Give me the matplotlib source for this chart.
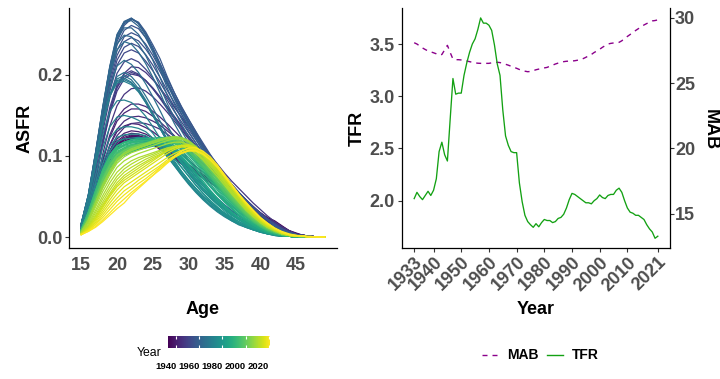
import matplotlib
matplotlib.use("Agg")
import matplotlib.pyplot as plt
import numpy as np
from matplotlib.lines import Line2D
from matplotlib.colors import Normalize
from matplotlib.cm import ScalarMappable

plt.rcParams['font.family'] = ['Liberation Sans', 'DejaVu Sans']

ages = list(range(15, 50))
years = list(range(1933, 2022))

# Age-specific fertility rates (births per 1000 women), ages 15..49, one row per year
asfr_1930s = [
    [6, 20, 44, 72, 95, 110, 118, 122, 122, 119, 115, 110, 104, 98, 93, 88, 82, 76, 70, 64, 58, 52, 46, 40, 35, 30, 24, 20, 14, 8, 5, 2, 1, 0, 0],
    [6, 21, 45, 74, 98, 113, 121, 125, 125, 122, 118, 112, 106, 100, 94, 89, 83, 77, 71, 64, 58, 52, 46, 40, 34, 29, 23, 19, 13, 8, 4, 2, 1, 0, 0],
    [6, 21, 45, 74, 97, 112, 120, 123, 123, 120, 116, 110, 104, 98, 92, 87, 81, 75, 69, 63, 57, 51, 45, 39, 33, 28, 22, 18, 12, 7, 4, 2, 1, 0, 0],
    [6, 21, 45, 74, 97, 111, 118, 121, 121, 118, 114, 108, 102, 96, 90, 85, 79, 73, 67, 61, 55, 49, 43, 37, 31, 26, 21, 17, 11, 6, 3, 2, 1, 0, 0],
    [6, 22, 47, 76, 100, 114, 121, 124, 124, 121, 117, 111, 105, 98, 92, 86, 80, 74, 68, 61, 55, 49, 43, 37, 31, 26, 20, 16, 11, 6, 3, 2, 1, 0, 0],
    [7, 23, 49, 79, 103, 118, 125, 128, 127, 124, 119, 113, 107, 100, 94, 88, 82, 75, 69, 62, 56, 50, 43, 37, 31, 25, 20, 16, 10, 6, 3, 2, 1, 0, 0],
    [7, 23, 48, 78, 102, 116, 123, 126, 125, 122, 117, 111, 105, 98, 92, 86, 80, 73, 67, 61, 54, 48, 42, 36, 30, 25, 19, 15, 10, 6, 3, 2, 1, 0, 0],
]
asfr_1940s = [
    [7, 24, 50, 81, 106, 121, 128, 131, 130, 127, 122, 116, 109, 102, 96, 89, 82, 75, 69, 62, 55, 49, 42, 36, 30, 24, 19, 15, 10, 6, 3, 2, 1, 0, 0],
    [7, 25, 53, 86, 113, 130, 137, 140, 139, 135, 130, 123, 116, 109, 102, 95, 87, 80, 73, 66, 58, 51, 44, 37, 31, 25, 19, 15, 10, 6, 3, 2, 1, 0, 0],
    [8, 27, 57, 93, 123, 143, 153, 158, 158, 155, 149, 142, 134, 125, 116, 107, 98, 89, 80, 72, 64, 56, 48, 41, 34, 27, 21, 16, 11, 6, 3, 2, 1, 0, 0],
    [8, 27, 58, 95, 126, 147, 158, 164, 164, 161, 155, 148, 140, 131, 122, 113, 103, 94, 85, 76, 67, 59, 51, 43, 36, 29, 22, 16, 11, 6, 3, 2, 1, 0, 0],
    [7, 24, 52, 86, 114, 133, 143, 148, 149, 147, 143, 138, 131, 124, 116, 108, 99, 91, 82, 74, 66, 58, 50, 43, 36, 29, 22, 17, 11, 6, 3, 2, 1, 0, 0],
    [6, 22, 48, 80, 107, 125, 135, 140, 141, 140, 137, 133, 127, 120, 112, 105, 97, 89, 81, 73, 65, 57, 50, 43, 36, 29, 22, 17, 11, 6, 3, 2, 1, 0, 0],
    [8, 29, 62, 102, 137, 162, 176, 183, 184, 180, 173, 164, 154, 143, 132, 121, 110, 100, 90, 80, 71, 62, 54, 46, 38, 30, 23, 17, 11, 6, 3, 2, 1, 0, 0],
    [10, 33, 70, 115, 155, 185, 202, 210, 209, 203, 194, 184, 172, 160, 148, 136, 124, 112, 101, 90, 79, 69, 60, 51, 42, 34, 26, 19, 13, 8, 4, 2, 1, 0, 0],
    [10, 33, 70, 114, 152, 180, 195, 201, 199, 193, 184, 173, 161, 149, 137, 125, 113, 102, 91, 81, 71, 62, 53, 45, 37, 30, 23, 17, 11, 6, 3, 2, 1, 0, 0],
    [10, 34, 72, 117, 156, 184, 198, 203, 200, 193, 183, 172, 160, 148, 136, 124, 112, 101, 90, 80, 70, 61, 52, 44, 36, 29, 22, 16, 11, 6, 3, 2, 1, 0, 0],
]
asfr_1950s = [
    [11, 35, 74, 120, 160, 188, 201, 205, 201, 193, 183, 171, 158, 146, 134, 122, 110, 99, 88, 78, 68, 59, 51, 43, 35, 28, 21, 16, 10, 6, 3, 2, 1, 0, 0],
    [12, 38, 80, 129, 172, 202, 216, 220, 216, 207, 196, 183, 169, 155, 142, 129, 116, 104, 92, 81, 71, 61, 52, 44, 36, 28, 21, 16, 10, 6, 3, 2, 1, 0, 0],
    [12, 40, 84, 135, 180, 212, 227, 231, 227, 217, 205, 191, 176, 161, 147, 133, 120, 107, 95, 84, 73, 63, 54, 45, 37, 29, 22, 16, 10, 6, 3, 2, 1, 0, 0],
    [13, 41, 86, 139, 185, 218, 234, 239, 235, 225, 212, 197, 181, 166, 151, 137, 123, 110, 98, 86, 75, 64, 55, 46, 37, 29, 22, 16, 10, 6, 3, 2, 1, 0, 0],
    [13, 42, 88, 142, 190, 224, 241, 246, 242, 232, 219, 204, 188, 172, 156, 141, 127, 113, 100, 88, 76, 65, 55, 46, 37, 29, 22, 16, 10, 6, 3, 1, 1, 0, 0],
    [14, 44, 91, 146, 195, 230, 247, 252, 248, 238, 224, 208, 191, 174, 158, 142, 128, 114, 101, 88, 76, 65, 55, 45, 36, 28, 21, 15, 10, 6, 3, 1, 1, 0, 0],
    [14, 46, 94, 150, 200, 237, 255, 261, 257, 246, 231, 214, 196, 178, 161, 145, 130, 116, 102, 89, 77, 65, 55, 45, 36, 28, 21, 15, 10, 6, 3, 1, 1, 0, 0],
    [14, 47, 96, 149, 200, 241, 261, 269, 265, 253, 237, 220, 198, 178, 160, 145, 130, 114, 98, 85, 72, 60, 51, 43, 32, 25, 18, 14, 8, 5, 3, 1, 1, 0, 0],
    [15, 48, 98, 152, 204, 244, 263, 269, 264, 251, 234, 214, 193, 174, 157, 141, 126, 111, 97, 84, 71, 60, 50, 41, 32, 25, 18, 13, 8, 5, 3, 1, 1, 0, 0],
    [15, 50, 101, 156, 208, 247, 265, 270, 264, 250, 232, 212, 191, 172, 155, 139, 124, 109, 95, 82, 70, 58, 48, 39, 31, 24, 17, 12, 8, 5, 3, 1, 0, 0, 0],
]
asfr_1960s = [
    [16, 51, 103, 158, 210, 249, 266, 270, 263, 249, 231, 210, 189, 170, 152, 136, 121, 106, 92, 79, 67, 56, 46, 37, 29, 22, 16, 12, 7, 4, 2, 1, 0, 0, 0],
    [16, 52, 104, 160, 211, 250, 265, 267, 260, 246, 228, 207, 184, 164, 146, 130, 116, 102, 88, 76, 64, 53, 44, 36, 27, 20, 15, 11, 7, 4, 2, 1, 0, 0, 0],
    [16, 52, 104, 160, 209, 245, 258, 258, 250, 236, 218, 197, 175, 156, 139, 124, 110, 97, 84, 72, 61, 51, 42, 34, 26, 19, 14, 10, 6, 4, 2, 1, 0, 0, 0],
    [16, 52, 103, 158, 205, 238, 249, 247, 238, 224, 206, 186, 165, 147, 131, 116, 103, 90, 78, 67, 57, 47, 39, 31, 24, 18, 13, 9, 6, 3, 2, 1, 0, 0, 0],
    [16, 52, 102, 155, 200, 231, 241, 238, 228, 214, 197, 178, 158, 140, 124, 110, 97, 85, 74, 64, 54, 45, 37, 30, 23, 17, 12, 9, 6, 3, 2, 1, 0, 0, 0],
    [15, 49, 96, 145, 185, 211, 218, 213, 203, 189, 173, 156, 138, 122, 108, 95, 84, 73, 63, 54, 46, 38, 31, 25, 19, 14, 10, 7, 4, 2, 1, 1, 0, 0, 0],
    [15, 48, 93, 139, 176, 198, 203, 198, 188, 174, 159, 143, 126, 111, 98, 86, 75, 65, 56, 48, 40, 33, 27, 21, 16, 12, 8, 6, 3, 2, 1, 0, 0, 0, 0],
    [15, 48, 93, 138, 174, 195, 199, 194, 183, 169, 153, 137, 121, 107, 94, 83, 72, 63, 54, 46, 39, 32, 26, 20, 15, 11, 8, 5, 3, 2, 1, 0, 0, 0, 0],
    [15, 49, 94, 139, 174, 193, 196, 191, 181, 167, 151, 135, 119, 105, 92, 80, 70, 60, 52, 44, 37, 30, 24, 19, 14, 10, 7, 5, 3, 2, 1, 0, 0, 0, 0],
    [16, 50, 96, 140, 175, 192, 194, 190, 180, 166, 150, 134, 118, 104, 91, 79, 68, 58, 50, 42, 35, 28, 23, 18, 13, 9, 6, 4, 2, 1, 1, 0, 0, 0, 0],
]
asfr_1970s = [
    [16, 50, 96, 140, 174, 190, 192, 188, 179, 166, 150, 134, 118, 103, 90, 78, 67, 57, 49, 41, 34, 27, 22, 17, 13, 9, 6, 4, 2, 1, 1, 0, 0, 0, 0],
    [15, 46, 87, 126, 155, 168, 169, 166, 159, 149, 136, 122, 107, 94, 81, 70, 60, 51, 43, 36, 30, 24, 19, 15, 11, 8, 5, 3, 2, 1, 0, 0, 0, 0, 0],
    [13, 40, 76, 110, 136, 148, 150, 148, 144, 138, 128, 116, 103, 90, 78, 67, 57, 48, 40, 33, 27, 22, 17, 13, 10, 7, 5, 3, 2, 1, 0, 0, 0, 0, 0],
    [12, 36, 68, 99, 122, 133, 136, 136, 134, 130, 122, 112, 100, 88, 76, 65, 55, 46, 38, 31, 25, 20, 15, 12, 9, 6, 4, 2, 1, 1, 0, 0, 0, 0, 0],
    [11, 33, 62, 91, 112, 123, 126, 127, 127, 125, 119, 110, 99, 88, 77, 66, 56, 47, 39, 32, 26, 20, 16, 12, 9, 6, 4, 2, 1, 1, 0, 0, 0, 0, 0],
    [10, 31, 58, 85, 106, 118, 121, 122, 123, 122, 118, 111, 102, 91, 80, 69, 59, 50, 42, 35, 28, 22, 17, 13, 10, 7, 5, 3, 1, 1, 0, 0, 0, 0, 0],
    [10, 30, 56, 82, 102, 113, 117, 119, 121, 121, 118, 112, 103, 92, 81, 70, 60, 50, 42, 34, 27, 21, 16, 12, 9, 7, 4, 3, 1, 1, 0, 0, 0, 0, 0],
    [10, 30, 56, 82, 101, 112, 117, 120, 122, 123, 121, 116, 108, 97, 86, 75, 64, 54, 45, 37, 29, 23, 17, 13, 9, 7, 4, 3, 1, 1, 0, 0, 0, 0, 0],
    [9, 28, 53, 78, 97, 108, 113, 116, 118, 119, 118, 114, 107, 97, 86, 75, 64, 54, 45, 37, 29, 23, 17, 13, 9, 6, 4, 2, 1, 1, 0, 0, 0, 0, 0],
    [9, 28, 53, 78, 97, 108, 114, 117, 120, 121, 121, 118, 111, 102, 91, 80, 69, 58, 48, 40, 32, 25, 19, 14, 10, 7, 4, 3, 1, 1, 0, 0, 0, 0, 0],
]
asfr_1980s = [
    [9, 27, 51, 75, 93, 104, 110, 114, 116, 118, 118, 116, 111, 103, 93, 82, 71, 60, 51, 42, 34, 27, 21, 16, 11, 8, 5, 3, 2, 1, 0, 0, 0, 0, 0],
    [9, 26, 50, 73, 91, 102, 108, 112, 115, 117, 117, 116, 112, 105, 96, 85, 74, 63, 53, 44, 35, 28, 22, 16, 11, 8, 5, 3, 2, 1, 0, 0, 0, 0, 0],
    [9, 26, 49, 72, 89, 100, 106, 110, 113, 115, 116, 116, 113, 107, 98, 88, 77, 66, 55, 46, 37, 29, 22, 16, 11, 8, 5, 3, 2, 1, 0, 0, 0, 0, 0],
    [8, 25, 47, 70, 87, 97, 103, 107, 110, 112, 114, 114, 112, 106, 98, 88, 78, 67, 56, 47, 38, 30, 23, 17, 12, 8, 5, 3, 2, 1, 0, 0, 0, 0, 0],
    [8, 24, 46, 69, 86, 96, 102, 106, 109, 111, 113, 114, 113, 108, 100, 90, 80, 69, 58, 48, 39, 31, 24, 18, 12, 9, 5, 3, 2, 1, 0, 0, 0, 0, 0],
    [8, 24, 46, 69, 85, 96, 102, 106, 109, 111, 113, 114, 113, 109, 102, 93, 83, 72, 62, 52, 43, 35, 27, 20, 14, 10, 6, 4, 2, 1, 0, 0, 0, 0, 0],
    [8, 24, 47, 70, 86, 96, 101, 105, 108, 110, 112, 114, 114, 111, 104, 95, 85, 74, 63, 53, 44, 35, 27, 20, 14, 10, 6, 4, 2, 1, 0, 0, 0, 0, 0],
    [8, 25, 48, 72, 89, 99, 104, 107, 109, 111, 113, 115, 115, 113, 107, 98, 88, 77, 66, 55, 45, 36, 28, 21, 15, 10, 6, 4, 2, 1, 0, 0, 0, 0, 0],
    [9, 27, 51, 76, 93, 104, 109, 112, 114, 115, 117, 118, 118, 116, 110, 101, 91, 80, 69, 58, 47, 38, 30, 22, 16, 11, 7, 4, 2, 1, 0, 0, 0, 0, 0],
    [9, 29, 54, 80, 98, 109, 114, 117, 118, 119, 120, 121, 120, 118, 112, 103, 93, 82, 71, 60, 49, 40, 31, 23, 17, 12, 7, 4, 2, 1, 1, 0, 0, 0, 0],
]
asfr_1990s = [
    [9, 30, 56, 82, 100, 112, 117, 120, 121, 121, 122, 123, 122, 119, 114, 105, 95, 84, 73, 62, 51, 42, 33, 25, 18, 12, 8, 5, 3, 1, 1, 0, 0, 0, 0],
    [9, 31, 57, 83, 101, 112, 116, 118, 119, 119, 120, 121, 121, 118, 113, 105, 95, 85, 74, 63, 52, 42, 33, 25, 18, 13, 8, 5, 3, 1, 1, 0, 0, 0, 0],
    [9, 31, 57, 82, 100, 110, 114, 116, 117, 117, 118, 119, 119, 117, 113, 105, 96, 86, 75, 64, 53, 43, 34, 26, 19, 13, 8, 5, 3, 1, 1, 0, 0, 0, 0],
    [9, 30, 56, 81, 98, 108, 112, 114, 115, 116, 117, 118, 118, 116, 112, 105, 96, 86, 76, 65, 54, 44, 35, 26, 19, 13, 8, 5, 3, 1, 1, 0, 0, 0, 0],
    [9, 29, 54, 79, 96, 106, 110, 113, 114, 115, 116, 117, 117, 115, 112, 105, 96, 86, 76, 65, 54, 44, 35, 27, 19, 13, 9, 5, 3, 2, 1, 0, 0, 0, 0],
    [8, 27, 52, 76, 93, 104, 109, 112, 114, 115, 117, 118, 118, 116, 112, 105, 96, 86, 76, 66, 55, 45, 36, 27, 20, 14, 9, 6, 3, 2, 1, 0, 0, 0, 0],
    [8, 26, 50, 74, 91, 102, 107, 111, 113, 114, 116, 117, 118, 117, 113, 106, 97, 88, 78, 67, 56, 46, 37, 28, 20, 14, 9, 6, 3, 2, 1, 0, 0, 0, 0],
    [8, 25, 48, 72, 89, 100, 106, 110, 112, 114, 116, 117, 118, 117, 114, 107, 99, 89, 79, 68, 57, 47, 37, 28, 21, 15, 10, 6, 3, 2, 1, 0, 0, 0, 0],
    [8, 25, 48, 71, 89, 101, 107, 111, 113, 115, 117, 119, 120, 119, 116, 110, 101, 91, 81, 70, 59, 48, 38, 29, 21, 15, 10, 6, 3, 2, 1, 0, 0, 0, 0],
    [7, 24, 47, 70, 88, 100, 106, 110, 113, 115, 118, 120, 121, 120, 117, 111, 103, 93, 82, 71, 60, 49, 39, 30, 22, 16, 10, 6, 3, 2, 1, 0, 0, 0, 0],
]
asfr_2000s = [
    [7, 24, 47, 70, 88, 101, 107, 111, 114, 116, 119, 121, 122, 121, 118, 112, 104, 94, 83, 72, 61, 50, 40, 31, 23, 16, 11, 7, 4, 2, 1, 1, 0, 0, 0],
    [7, 23, 45, 67, 85, 98, 104, 108, 111, 114, 117, 120, 121, 121, 118, 112, 104, 95, 84, 73, 62, 51, 41, 31, 23, 16, 11, 7, 4, 2, 1, 1, 0, 0, 0],
    [6, 22, 43, 64, 82, 95, 102, 106, 110, 113, 116, 119, 121, 121, 119, 113, 105, 96, 85, 74, 63, 52, 41, 32, 23, 17, 11, 7, 4, 2, 1, 1, 0, 0, 0],
    [6, 21, 42, 63, 81, 95, 102, 107, 110, 113, 117, 120, 122, 123, 121, 116, 108, 99, 88, 77, 65, 54, 43, 33, 24, 17, 11, 7, 4, 2, 1, 1, 0, 0, 0],
    [6, 21, 42, 63, 80, 94, 102, 107, 110, 113, 116, 119, 122, 123, 122, 117, 110, 101, 90, 79, 67, 55, 44, 34, 25, 17, 12, 7, 4, 2, 1, 1, 0, 0, 0],
    [6, 21, 42, 63, 80, 94, 102, 107, 110, 113, 116, 119, 121, 122, 121, 117, 110, 101, 90, 79, 67, 55, 44, 34, 25, 18, 12, 7, 4, 2, 1, 1, 0, 0, 0],
    [6, 21, 43, 65, 82, 96, 104, 109, 112, 115, 118, 121, 123, 124, 123, 119, 112, 103, 92, 81, 68, 56, 45, 35, 26, 18, 12, 8, 4, 2, 1, 1, 0, 0, 0],
    [6, 21, 42, 63, 80, 94, 102, 107, 110, 113, 116, 119, 122, 123, 122, 118, 111, 102, 91, 80, 68, 56, 45, 35, 26, 18, 12, 8, 4, 2, 1, 1, 0, 0, 0],
    [6, 20, 40, 60, 77, 91, 99, 104, 107, 110, 113, 116, 119, 121, 121, 118, 111, 103, 92, 81, 69, 57, 46, 36, 27, 19, 13, 8, 4, 2, 1, 1, 0, 0, 0],
    [5, 18, 37, 56, 72, 86, 94, 99, 103, 106, 109, 112, 115, 117, 117, 114, 108, 100, 89, 78, 67, 55, 44, 34, 26, 18, 12, 8, 4, 2, 1, 1, 0, 0, 0],
]
asfr_2010s = [
    [5, 16, 33, 51, 67, 80, 88, 94, 98, 101, 104, 107, 110, 112, 112, 109, 103, 95, 85, 75, 64, 53, 43, 33, 25, 18, 12, 8, 4, 2, 1, 1, 0, 0, 0],
    [4, 14, 30, 47, 62, 75, 84, 90, 95, 99, 102, 106, 109, 112, 113, 111, 105, 97, 88, 78, 67, 55, 45, 35, 26, 19, 13, 8, 4, 2, 1, 1, 0, 0, 0],
    [4, 13, 27, 43, 58, 71, 80, 86, 91, 96, 100, 104, 108, 111, 113, 112, 107, 100, 91, 81, 69, 58, 47, 36, 27, 20, 13, 8, 5, 2, 1, 1, 0, 0, 0],
    [4, 12, 25, 40, 54, 67, 76, 82, 88, 93, 98, 102, 107, 110, 113, 113, 109, 102, 93, 83, 71, 60, 48, 37, 28, 20, 14, 9, 5, 3, 1, 1, 0, 0, 0],
    [4, 11, 23, 38, 52, 64, 73, 79, 85, 91, 96, 101, 106, 110, 113, 114, 111, 104, 95, 85, 73, 61, 50, 38, 29, 21, 14, 9, 5, 3, 1, 1, 0, 0, 0],
    [4, 11, 22, 36, 50, 62, 70, 76, 82, 88, 94, 100, 106, 110, 113, 113, 110, 104, 95, 85, 73, 61, 50, 39, 29, 21, 14, 9, 5, 3, 1, 1, 0, 0, 0],
    [3, 10, 20, 33, 46, 58, 67, 73, 79, 85, 91, 97, 103, 108, 111, 112, 110, 105, 97, 87, 75, 63, 51, 40, 30, 22, 15, 10, 5, 3, 1, 1, 0, 0, 0],
    [3, 9, 18, 30, 42, 53, 62, 68, 74, 80, 86, 92, 98, 103, 107, 109, 108, 103, 96, 87, 75, 63, 52, 41, 31, 22, 15, 10, 6, 3, 1, 1, 0, 0, 0],
    [3, 8, 16, 27, 38, 48, 57, 63, 70, 76, 82, 88, 95, 100, 104, 107, 107, 103, 96, 87, 76, 64, 52, 41, 32, 23, 16, 10, 6, 3, 1, 1, 0, 0, 0],
    [3, 8, 15, 24, 34, 44, 52, 59, 66, 72, 79, 86, 93, 99, 104, 107, 107, 103, 96, 87, 76, 64, 53, 42, 33, 24, 17, 11, 6, 3, 2, 1, 0, 0, 0],
]
asfr_2020s = [
    [3, 7, 13, 21, 30, 39, 47, 55, 62, 69, 76, 83, 91, 98, 103, 106, 106, 102, 95, 86, 75, 64, 52, 42, 33, 24, 17, 11, 6, 3, 2, 1, 0, 0, 0],
    [3, 7, 12, 19, 27, 35, 42, 52, 60, 68, 76, 85, 92, 100, 106, 110, 110, 106, 99, 89, 77, 65, 53, 43, 33, 24, 17, 11, 7, 4, 2, 1, 1, 0, 0],
]

# Total fertility rate by year
tfr_1930s = [2.02, 2.08, 2.04, 2.01, 2.05, 2.09, 2.05]
tfr_1940s = [2.10, 2.21, 2.47, 2.56, 2.44, 2.38, 2.78, 3.17, 3.02, 3.03]
tfr_1950s = [3.03, 3.20, 3.32, 3.42, 3.50, 3.55, 3.64, 3.75, 3.70, 3.70]
tfr_1960s = [3.68, 3.63, 3.49, 3.31, 3.20, 2.87, 2.62, 2.53, 2.47, 2.46]
tfr_1970s = [2.46, 2.17, 1.99, 1.86, 1.80, 1.77, 1.745, 1.78, 1.75, 1.79]
tfr_1980s = [1.82, 1.81, 1.81, 1.79, 1.80, 1.83, 1.84, 1.87, 1.93, 2.01]
tfr_1990s = [2.07, 2.06, 2.04, 2.02, 2.00, 1.98, 1.98, 1.97, 2.00, 2.02]
tfr_2000s = [2.055, 2.03, 2.02, 2.05, 2.06, 2.06, 2.10, 2.12, 2.08, 2.00]
tfr_2010s = [1.93, 1.89, 1.88, 1.86, 1.86, 1.84, 1.82, 1.77, 1.73, 1.70]
tfr_2020s = [1.64, 1.66]

# Mean age at birth by year
mab_1930s = [28.1, 28.0, 27.85, 27.7, 27.58, 27.47, 27.4]
mab_1940s = [27.33, 27.25, 27.15, 27.2, 27.55, 27.9, 27.35, 26.85, 26.8, 26.8]
mab_1950s = [26.78, 26.75, 26.7, 26.65, 26.6, 26.56, 26.53, 26.52, 26.52, 26.52]
mab_1960s = [26.52, 26.56, 26.6, 26.6, 26.58, 26.52, 26.45, 26.38, 26.3, 26.22]
mab_1970s = [26.14, 26.05, 25.97, 25.92, 25.88, 25.9, 25.96, 26.03, 26.08, 26.12]
mab_1980s = [26.17, 26.21, 26.3, 26.38, 26.47, 26.54, 26.6, 26.65, 26.68, 26.69]
mab_1990s = [26.7, 26.72, 26.76, 26.8, 26.88, 26.98, 27.1, 27.2, 27.35, 27.47]
mab_2000s = [27.6, 27.75, 27.88, 28.0, 28.05, 28.08, 28.1, 28.13, 28.25, 28.42]
mab_2010s = [28.58, 28.73, 28.88, 29.04, 29.18, 29.32, 29.46, 29.57, 29.67, 29.77]
mab_2020s = [29.8, 29.85]

age_ticks = [15, 20, 25, 30, 35, 40, 45]
asfr_ticks = [0.0, 0.1, 0.2]
year_ticks = [1933, 1940, 1950, 1960, 1970, 1980, 1990, 2000, 2010, 2021]
tfr_ticks = [2.0, 2.5, 3.0, 3.5]
mab_ticks = [15, 20, 25, 30]
legend_years = [1940, 1960, 1980, 2000, 2020]
MAB_SCALE = 8  # MAB is drawn on the TFR scale divided by this factor

asfr = np.array(asfr_1930s + asfr_1940s + asfr_1950s + asfr_1960s + asfr_1970s
                + asfr_1980s + asfr_1990s + asfr_2000s + asfr_2010s + asfr_2020s) / 1000.0
tfr = np.array(tfr_1930s + tfr_1940s + tfr_1950s + tfr_1960s + tfr_1970s
               + tfr_1980s + tfr_1990s + tfr_2000s + tfr_2010s + tfr_2020s)
mab = np.array(mab_1930s + mab_1940s + mab_1950s + mab_1960s + mab_1970s
               + mab_1980s + mab_1990s + mab_2000s + mab_2010s + mab_2020s)

W, H = 720, 379
fig = plt.figure(figsize=(W / 100, H / 100), dpi=100)


def fx(px):
    return px / W


def fy(py):
    return 1 - py / H


TICK_GREY = '#4D4D4D'
GREEN = '#13A113'
PURPLE = '#8B008B'
SPINE_LW = 0.9

# ---------------- left panel: ASFR curves ----------------
ax1 = fig.add_axes([fx(69), fy(248), (337 - 69) / W, 240 / H])
cmap = plt.get_cmap('viridis')
norm = Normalize(years[0], years[-1])
for yr, row in zip(years, asfr):
    ax1.plot(ages, row, color=cmap(norm(yr)), lw=0.9, solid_joinstyle='round')
ax1.set_xlim(13.3, 50.7)
ax1.set_ylim(-0.0135, 0.2825)
ax1.set_xticks(age_ticks)
ax1.set_yticks(asfr_ticks)
ax1.set_yticklabels([f'{v:.1f}' for v in asfr_ticks])
for s in ['top', 'right']:
    ax1.spines[s].set_visible(False)
for s in ['left', 'bottom']:
    ax1.spines[s].set_linewidth(SPINE_LW)
ax1.tick_params(axis='x', length=0, pad=6.3, labelsize=13, labelcolor=TICK_GREY)
ax1.tick_params(axis='y', length=2.75, width=0.8, color='#333333', pad=1.8,
                labelsize=13, labelcolor=TICK_GREY)
for lbl in ax1.get_xticklabels() + ax1.get_yticklabels():
    lbl.set_fontweight('bold')

fig.text(fx(25), fy(128), 'ASFR', rotation=90, ha='center', va='center',
         fontsize=13, fontweight='bold')
fig.text(fx(203), fy(314), 'Age', ha='center', va='baseline',
         fontsize=13, fontweight='bold')

# colour bar legend
cax = fig.add_axes([fx(168), fy(347.7), 102 / W, 12 / H])
cb = fig.colorbar(ScalarMappable(norm=norm, cmap=cmap), cax=cax, orientation='horizontal')
cb.outline.set_visible(False)
cb.set_ticks(legend_years)
cax.tick_params(axis='x', direction='in', length=2.5, width=0.8, color='white',
                top=True, bottom=True, pad=10.0, labelsize=6.8, labelcolor='black')
for lbl in cax.get_xticklabels():
    lbl.set_fontweight('bold')
    lbl.set_horizontalalignment('right')
fig.text(fx(149), fy(353), 'Year', ha='center', va='center', fontsize=8.8)

# ---------------- right panel: TFR and MAB ----------------
ax2 = fig.add_axes([fx(402), fy(248), 268 / W, 240 / H])
ax2.plot(years, mab / MAB_SCALE, color=PURPLE, lw=1.0, ls=(0, (3.6, 3.6)))
ax2.plot(years, tfr, color=GREEN, lw=0.95)
ax2.set_xlim(1928.6, 2025.4)
ax2.set_ylim(1.547, 3.845)
ax2.set_xticks(year_ticks)
ax2.set_xticklabels([str(y) for y in year_ticks], rotation=45, ha='right', va='top',
                    rotation_mode='anchor')
ax2.set_yticks(tfr_ticks)
ax2.set_yticklabels([f'{v:.1f}' for v in tfr_ticks])
ax2.spines['top'].set_visible(False)
ax2.spines['right'].set_visible(False)
for s in ['left', 'bottom']:
    ax2.spines[s].set_linewidth(SPINE_LW)
ax2.tick_params(axis='x', length=2.75, width=0.8, color='#333333', pad=1.5,
                labelsize=13, labelcolor=TICK_GREY)
ax2.tick_params(axis='y', length=2.75, width=0.8, color='#333333', pad=2.3,
                labelsize=13, labelcolor=TICK_GREY)
for lbl in ax2.get_xticklabels() + ax2.get_yticklabels():
    lbl.set_fontweight('bold')

sec = ax2.secondary_yaxis('right', functions=(lambda t: t * MAB_SCALE, lambda m: m / MAB_SCALE))
sec.set_yticks(mab_ticks)
sec.spines['right'].set_linewidth(SPINE_LW)
sec.tick_params(axis='y', length=2.75, width=0.8, color='#333333', pad=0.9,
                labelsize=13, labelcolor=TICK_GREY)
for lbl in sec.get_yticklabels():
    lbl.set_fontweight('bold')

fig.text(fx(357.5), fy(128), 'TFR', rotation=90, ha='center', va='center',
         fontsize=13, fontweight='bold')
fig.text(fx(710.5), fy(130), 'MAB', rotation=270, ha='center', va='center',
         fontsize=13, fontweight='bold')
fig.text(fx(536), fy(314), 'Year', ha='center', va='baseline',
         fontsize=13, fontweight='bold')

# line legend
fig.add_artist(Line2D([fx(481.7), fx(496.7)], [fy(355), fy(355)], transform=fig.transFigure,
                      color=PURPLE, lw=1.0, ls=(0, (3.6, 3.6))))
fig.text(fx(506.7), fy(355), 'MAB', ha='left', va='center', fontsize=10, fontweight='bold')
fig.add_artist(Line2D([fx(547.3), fx(563.3)], [fy(355), fy(355)], transform=fig.transFigure,
                      color=GREEN, lw=1.0))
fig.text(fx(571.7), fy(355), 'TFR', ha='left', va='center', fontsize=10, fontweight='bold')

fig.savefig('out.png', dpi=100)
